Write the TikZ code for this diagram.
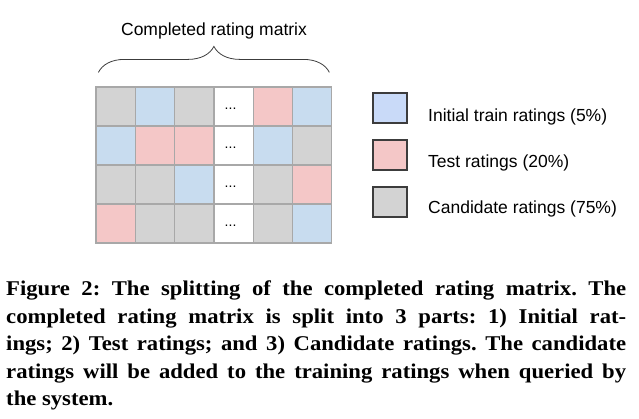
\documentclass[tikz,border=0pt]{standalone}
\usepackage{fontspec}
\setsansfont{Liberation Sans}
\newfontfamily\captionfont[FakeStretch=1.08]{Liberation Serif}
\usepackage{xcolor}
\usepackage{tikz}
\usetikzlibrary{positioning, decorations.pathreplacing}
\definecolor{cellG}{HTML}{D3D3D3}
\definecolor{cellB}{HTML}{C8DCEF}
\definecolor{cellP}{HTML}{F4C7C7}
\definecolor{cellW}{HTML}{FFFFFF}
\definecolor{gridline}{HTML}{A8A8A8}
\definecolor{legB}{HTML}{C9DAF8}
\definecolor{legP}{HTML}{F4C7C7}
\definecolor{legG}{HTML}{D3D3D3}
\definecolor{legline}{HTML}{3C3C3C}
\frenchspacing

\begin{document}
\begin{tikzpicture}[x=1pt, y=-1pt,
    cell/.style={draw=gridline, line width=1.2pt, minimum width=39.3pt, minimum height=39pt, inner sep=0pt},
    legbox/.style={draw=legline, line width=1.1pt, minimum width=34pt, minimum height=30pt, inner sep=0pt},
    diatext/.style={font=\sffamily\fontsize{17.5}{21}\selectfont, inner sep=0pt}]
  \useasboundingbox (0,0) rectangle (639,418);
  % matrix cells, row by row (column 4 is the gap)
  \foreach \r/\row in {1/{cellG,cellB,cellG,cellW,cellP,cellB},
                       2/{cellB,cellP,cellP,cellW,cellB,cellG},
                       3/{cellG,cellG,cellB,cellW,cellG,cellP},
                       4/{cellP,cellG,cellG,cellW,cellG,cellB}}{
    \foreach \fillc [count=\c] in \row {
      \node[cell, fill=\fillc] (cell-\r-\c) at ({96+39.3*(\c-0.5)}, {87+39*(\r-0.5)}) {};
    }
  }
  \foreach \r in {1,...,4}{
    \node[font=\sffamily\fontsize{14}{16}\selectfont, inner sep=0pt] (dots-\r) at ([shift={(-3,2)}]cell-\r-4.center) {...};
  }
  % brace and title
  \coordinate (brace-l) at ([shift={(3,-14)}]cell-1-1.north west);
  \coordinate (brace-r) at ([shift={(-3,-14)}]cell-1-6.north east);
  \draw[color=legline, line width=0.8pt, decorate, decoration={brace, amplitude=26pt}] (brace-l) -- (brace-r);
  \node[diatext, anchor=base] (title) at (214,35) {Completed rating matrix};
  % legend
  \node[legbox, fill=legB] (leg-train) at (390,108) {};
  \node[legbox, fill=legP] (leg-test) at (390,155) {};
  \node[legbox, fill=legG] (leg-cand) at (390,202) {};
  \node[diatext, anchor=base west] (lab-train) at (428,121) {Initial train ratings (5\%)};
  \node[diatext, anchor=base west] (lab-test) at (428,167) {Test ratings (20\%)};
  \node[diatext, anchor=base west] (lab-cand) at (428,213) {Candidate ratings (75\%)};
  % caption
  \node[anchor=north west, inner sep=0pt, text width=620pt, align=justify,
        font=\captionfont\bfseries\fontsize{21}{27.5}\selectfont] (caption) at (6,281)
    {Figure 2: The splitting of the completed rating matrix. The\linebreak
     completed rating matrix is split into 3 parts: 1) Initial rat-\linebreak
     ings; 2) Test ratings; and 3) Candidate ratings. The candidate\linebreak
     ratings will be added to the training ratings when queried by\linebreak
     the system.};
\end{tikzpicture}
\end{document}
